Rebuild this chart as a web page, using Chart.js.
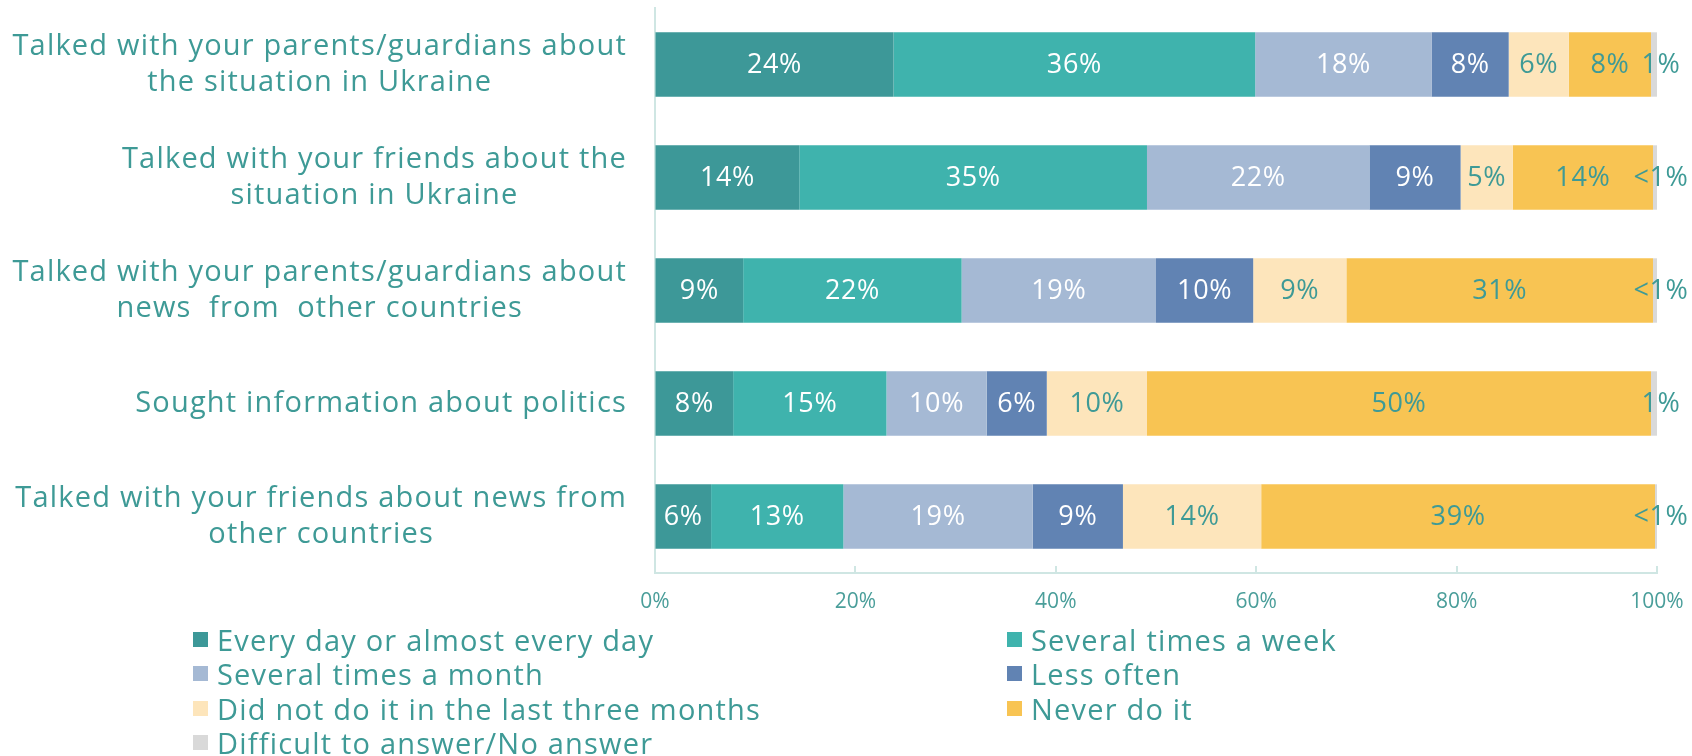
<!DOCTYPE html>
<html>
<head>
<meta charset="utf-8">
<title>Frequency of activities</title>
<script src="https://cdn.jsdelivr.net/npm/chart.js@4.4.1/dist/chart.umd.min.js"></script>
<style>
  html, body { margin: 0; padding: 0; background: #fff; }
  #wrap { position: relative; width: 1692px; height: 756px; overflow: hidden; }
  #legend { position: absolute; left: 0; top: 0; width: 1692px; height: 756px; pointer-events: none;
            font-family: 'Open Sans', sans-serif; font-size: 29px; letter-spacing: 1.2px; color: #3e9a96; }
  .item { position: absolute; display: flex; align-items: center; height: 34px; white-space: nowrap; }
  .box { width: 15px; height: 15px; margin-right: 9px; flex: none; }
</style>
</head>
<body>
<div id="wrap">
  <canvas id="chart" width="1692" height="756"></canvas>
  <div id="legend"></div>
</div>
<script>
const categories = [
  ['Talked with your parents/guardians about', 'the situation in Ukraine'],
  ['Talked with your friends about the', 'situation in Ukraine'],
  ['Talked with your parents/guardians about', 'news  from  other countries'],
  ['Sought information about politics'],
  ['Talked with your friends about news from', 'other countries']
];

const seriesNames = [
  'Every day or almost every day',
  'Several times a week',
  'Several times a month',
  'Less often',
  'Did not do it in the last three months',
  'Never do it',
  'Difficult to answer/No answer'
];

const everyDay     = [23.8, 14.4,  8.8,  7.8,  5.6];
const severalWeek  = [36.1, 34.7, 21.8, 15.3, 13.2];
const severalMonth = [17.6, 22.2, 19.4, 10.0, 18.9];
const lessOften    = [ 7.7,  9.1,  9.7,  6.0,  9.0];
const notRecently  = [ 6.0,  5.2,  9.3, 10.0, 13.8];
const neverDo      = [ 8.2, 14.0, 30.6, 50.3, 39.3];
const noAnswer     = [ 0.6,  0.4,  0.4,  0.6,  0.2];

const xTicks = [0, 20, 40, 60, 80, 100];

const colors = ['#3d9898', '#3fb3ad', '#a5b9d4', '#6183b3', '#fde5bb', '#f8c453', '#d9d9d9'];
const labelColors = ['#ffffff', '#ffffff', '#ffffff', '#ffffff', '#3e9a96', '#3e9a96', '#3e9a96'];

const TEXT = '#3e9a96';
const AXIS = '#cfe6e3';
const FONT = "'Open Sans', sans-serif";

const values = [everyDay, severalWeek, severalMonth, lessOften, notRecently, neverDo, noAnswer];

function pct(v) {
  return v < 0.5 ? '<1%' : Math.round(v) + '%';
}

// category names: each block's lines centred on each other, block right-aligned to the axis
const categoryLabels = {
  id: 'categoryLabels',
  afterDraw(chart) {
    const { ctx } = chart;
    const y = chart.scales.y;
    const right = y.right - 28;
    const lineH = 36;
    ctx.save();
    ctx.font = '29px ' + FONT;
    ctx.letterSpacing = '1.2px';
    ctx.fillStyle = TEXT;
    ctx.textAlign = 'center';
    ctx.textBaseline = 'middle';
    categories.forEach((lines, i) => {
      const widest = Math.max(...lines.map((l) => ctx.measureText(l).width));
      const cx = right - widest / 2;
      const cy = y.getPixelForTick(i);
      lines.forEach((line, j) => {
        ctx.fillText(line, cx, cy + (j - (lines.length - 1) / 2) * lineH);
      });
    });
    ctx.restore();
  }
};

// value labels inside each segment
const valueLabels = {
  id: 'valueLabels',
  afterDatasetsDraw(chart) {
    const { ctx } = chart;
    ctx.save();
    ctx.font = '27px ' + FONT;
    ctx.letterSpacing = '0.6px';
    ctx.textAlign = 'center';
    ctx.textBaseline = 'middle';
    chart.data.datasets.forEach((ds, di) => {
      const meta = chart.getDatasetMeta(di);
      meta.data.forEach((bar, i) => {
        const last = di === chart.data.datasets.length - 1;
        const x = last ? bar.x + 4 : (bar.x + bar.base) / 2;
        ctx.fillStyle = labelColors[di];
        ctx.fillText(pct(ds.data[i]), x, bar.y + 1);
      });
    });
    ctx.restore();
  }
};

// short tick marks standing up from the bottom axis
const tickMarks = {
  id: 'tickMarks',
  afterDraw(chart) {
    const { ctx } = chart;
    const x = chart.scales.x;
    const bottom = chart.chartArea.bottom;
    ctx.save();
    ctx.strokeStyle = AXIS;
    ctx.lineWidth = 2;
    x.ticks.forEach((t) => {
      const px = Math.round(x.getPixelForValue(t.value));
      ctx.beginPath();
      ctx.moveTo(px, bottom);
      ctx.lineTo(px, bottom - 7);
      ctx.stroke();
    });
    ctx.restore();
  }
};

const chart = new Chart(document.getElementById('chart'), {
  type: 'bar',
  data: {
    labels: categories,
    datasets: values.map((data, i) => ({
      label: seriesNames[i],
      data,
      backgroundColor: colors[i],
      borderWidth: 0,
      barPercentage: 0.57,
      categoryPercentage: 1
    }))
  },
  options: {
    indexAxis: 'y',
    responsive: false,
    animation: false,
    events: [],
    layout: { padding: { top: 8, left: 0, right: 35, bottom: 138 } },
    plugins: {
      legend: { display: false },
      tooltip: { enabled: false }
    },
    scales: {
      x: {
        stacked: true,
        min: 0,
        max: 100,
        afterBuildTicks(scale) {
          scale.ticks = xTicks.map((value) => ({ value }));
        },
        afterFit(scale) {
          scale.height = 45;
          scale.paddingLeft = 0;
          scale.paddingRight = 0;
        },
        grid: { display: true, drawOnChartArea: false, drawTicks: false },
        border: { color: AXIS, width: 2 },
        ticks: {
          padding: 16,
          color: '#4a9e9a',
          font: { family: FONT, size: 21 },
          callback: (v) => v + '%'
        }
      },
      y: {
        stacked: true,
        afterFit(scale) { scale.width = 655; },
        grid: { display: false },
        border: { color: AXIS, width: 2 },
        ticks: { display: false }
      }
    }
  },
  plugins: [categoryLabels, valueLabels, tickMarks]
});

// two-column legend under the plot
const legendEl = document.getElementById('legend');
chart.data.datasets.forEach((ds, i) => {
  const item = document.createElement('div');
  item.className = 'item';
  item.style.left = (i % 2 === 0 ? 193 : 1007) + 'px';
  item.style.top = (622 + Math.floor(i / 2) * 34.5) + 'px';
  const box = document.createElement('span');
  box.className = 'box';
  box.style.background = ds.backgroundColor;
  const text = document.createElement('span');
  text.textContent = ds.label;
  item.appendChild(box);
  item.appendChild(text);
  legendEl.appendChild(item);
});
</script>
</body>
</html>
